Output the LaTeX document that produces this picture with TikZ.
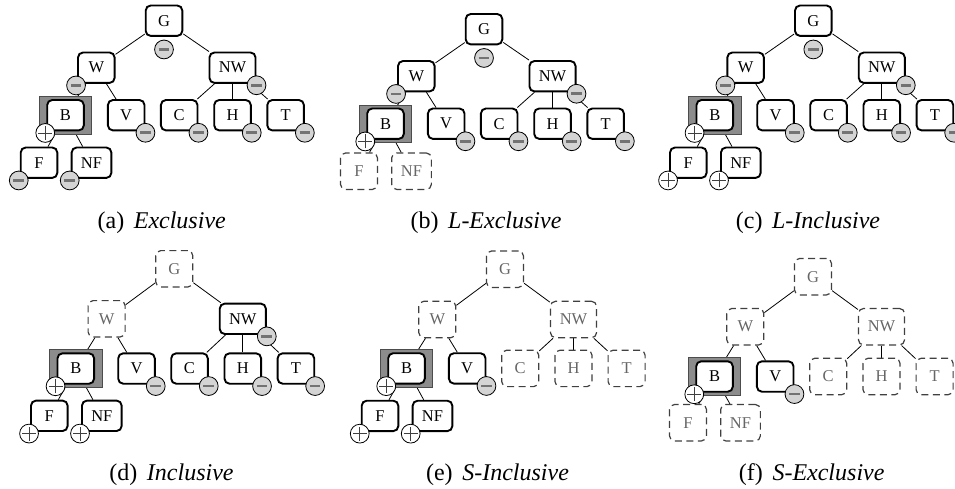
\documentclass[tikz,border=0pt]{standalone}
\usepackage{fontspec}
\setmainfont{Liberation Serif}
\pgfdeclarelayer{bg}
\pgfdeclarelayer{mid}
\pgfsetlayers{bg,mid,main}
\tikzset{
  nodefont/.style={font=\fontsize{16.5}{19}\selectfont},
  tnode/.style={nodefont, draw, line width=1.9pt, rounded corners=5pt, fill=white,
    minimum width=36.6pt, minimum height=30.4pt, inner xsep=9.3pt, inner ysep=2pt, text=black},
  dnode/.style={nodefont, draw=black!75, dash pattern=on 7pt off 4.5pt, line width=1.2pt,
    rounded corners=5pt, fill=white, minimum width=37pt, minimum height=36.4pt,
    inner xsep=9.3pt, inner ysep=2pt, text=black!60},
  tedge/.style={line width=0.8pt},
  mcirc/.style={circle, draw, line width=0.8pt, fill=black!17, minimum size=18.8pt, inner sep=0pt,
    path picture={\draw[line width=2.6pt, black!55]
      ([xshift=-5.3pt]path picture bounding box.center) -- ([xshift=5.3pt]path picture bounding box.center);}},
  pcirc/.style={circle, draw, line width=0.8pt, fill=white, minimum size=18.8pt, inner sep=0pt,
    path picture={\draw[line width=0.9pt, black!75]
      ([xshift=-7pt]path picture bounding box.center) -- ([xshift=7pt]path picture bounding box.center)
      ([yshift=-7pt]path picture bounding box.center) -- ([yshift=7pt]path picture bounding box.center);}},
  bbox/.style={draw=black!70, fill=black!45, line width=0.6pt, minimum width=52.4pt,
    minimum height=37.8pt, inner sep=0pt},
  capt/.style={anchor=base, font=\fontsize{24}{28}\selectfont},
  sG/.style={tnode}, sW/.style={tnode}, sNW/.style={tnode}, sB/.style={tnode}, sV/.style={tnode},
  sC/.style={tnode}, sH/.style={tnode}, sT/.style={tnode}, sF/.style={tnode}, sNF/.style={tnode}
}
% #1,#2: centre of G; #3,#4,#5: depth of the three lower levels
\newcommand\drawtree[5]{%
  \node[sG] (G) at (#1,#2) {G};
  \node[sW] (W) at (#1-67.7,#2+#3) {W};
  \node[sNW] (NW) at (#1+68.5,#2+#3) {NW};
  \node[sB] (B) at (#1-98.5,#2+#4) {B};
  \node[sV] (V) at (#1-37.8,#2+#4) {V};
  \node[sC] (C) at (#1+15.2,#2+#4) {C};
  \node[sH] (H) at (#1+68.5,#2+#4) {H};
  \node[sT] (T) at (#1+121.6,#2+#4) {T};
  \node[sF] (F) at (#1-125,#2+#5) {F};
  \node[sNF] (NF) at (#1-72.5,#2+#5) {NF};
  \begin{pgfonlayer}{mid}
    \node[bbox] (Bb) at (B) {};
  \end{pgfonlayer}
  \begin{pgfonlayer}{bg}
    \draw[tedge] (G) -- (W);
    \draw[tedge] (G) -- (NW);
    \draw[tedge] (W) -- (B);
    \draw[tedge] (W) -- (V);
    \draw[tedge] (NW) -- (C);
    \draw[tedge] (NW) -- (H);
    \draw[tedge] (NW) -- (T);
    \draw[tedge] (B) -- (F);
    \draw[tedge] (B) -- (NF);
  \end{pgfonlayer}
}
\newcommand\circG[1]{\node[#1] (Gc) at ([yshift=-12.6pt]G.south) {};}
\newcommand\circSW[2]{\node[#1] (#2c) at ([xshift=-1pt,yshift=-1.6pt]#2.south west) {};}
\newcommand\circSE[2]{\node[#1] (#2c) at ([xshift=0pt,yshift=-1.4pt]#2.south east) {};}
\begin{document}
\begin{tikzpicture}[x=1pt,y=-1pt]
\useasboundingbox (0,0) rectangle (955,488);
% (a) Exclusive
\begin{scope}[name prefix=a-]
  \drawtree{164}{20.7}{47}{94.5}{142}
  \circG{mcirc} \circSW{mcirc}{W} \circSE{mcirc}{NW} \circSW{pcirc}{B}
  \circSE{mcirc}{V} \circSE{mcirc}{C} \circSE{mcirc}{H} \circSE{mcirc}{T}
  \circSW{mcirc}{F} \circSW{mcirc}{NF}
  \node[capt] (cap) at (161.7,228.5) {(a)\hspace{0.4em}\textit{Exclusive}};
\end{scope}
% (b) L-Exclusive
\begin{scope}[name prefix=b-, sF/.style={dnode}, sNF/.style={dnode}]
  \drawtree{484}{29.2}{47}{94.5}{142}
  \circG{mcirc} \circSW{mcirc}{W} \circSE{mcirc}{NW} \circSW{pcirc}{B}
  \circSE{mcirc}{V} \circSE{mcirc}{C} \circSE{mcirc}{H} \circSE{mcirc}{T}
  \node[capt] (cap) at (486,228.5) {(b)\hspace{0.4em}\textit{L-Exclusive}};
\end{scope}
% (c) L-Inclusive
\begin{scope}[name prefix=c-]
  \drawtree{813.3}{20.7}{47}{94.5}{142}
  \circG{mcirc} \circSW{mcirc}{W} \circSE{mcirc}{NW} \circSW{pcirc}{B}
  \circSE{mcirc}{V} \circSE{mcirc}{C} \circSE{mcirc}{H} \circSE{mcirc}{T}
  \circSW{pcirc}{F} \circSW{pcirc}{NF}
  \node[capt] (cap) at (808,228.5) {(c)\hspace{0.4em}\textit{L-Inclusive}};
\end{scope}
% (d) Inclusive
\begin{scope}[name prefix=d-, sG/.style={dnode}, sW/.style={dnode}]
  \drawtree{174.3}{268.8}{50}{99.7}{147}
  \circSE{mcirc}{NW} \circSW{pcirc}{B}
  \circSE{mcirc}{V} \circSE{mcirc}{C} \circSE{mcirc}{H} \circSE{mcirc}{T}
  \circSW{pcirc}{F} \circSW{pcirc}{NF}
  \node[capt] (cap) at (171.5,480.5) {(d)\hspace{0.4em}\textit{Inclusive}};
\end{scope}
% (e) S-Inclusive
\begin{scope}[name prefix=e-, sG/.style={dnode}, sW/.style={dnode}, sNW/.style={dnode},
    sC/.style={dnode}, sH/.style={dnode}, sT/.style={dnode}]
  \drawtree{505}{269.2}{50.3}{99.2}{146.7}
  \circSW{pcirc}{B} \circSE{mcirc}{V}
  \circSW{pcirc}{F} \circSW{pcirc}{NF}
  \node[capt] (cap) at (497.5,480.5) {(e)\hspace{0.4em}\textit{S-Inclusive}};
\end{scope}
% (f) S-Exclusive
\begin{scope}[name prefix=f-, sG/.style={dnode}, sW/.style={dnode}, sNW/.style={dnode},
    sC/.style={dnode}, sH/.style={dnode}, sT/.style={dnode}, sF/.style={dnode}, sNF/.style={dnode}]
  \drawtree{813}{276.7}{50}{99.8}{146}
  \circSW{pcirc}{B} \circSE{mcirc}{V}
  \node[capt] (cap) at (811.7,480.5) {(f)\hspace{0.4em}\textit{S-Exclusive}};
\end{scope}
\end{tikzpicture}
\end{document}
